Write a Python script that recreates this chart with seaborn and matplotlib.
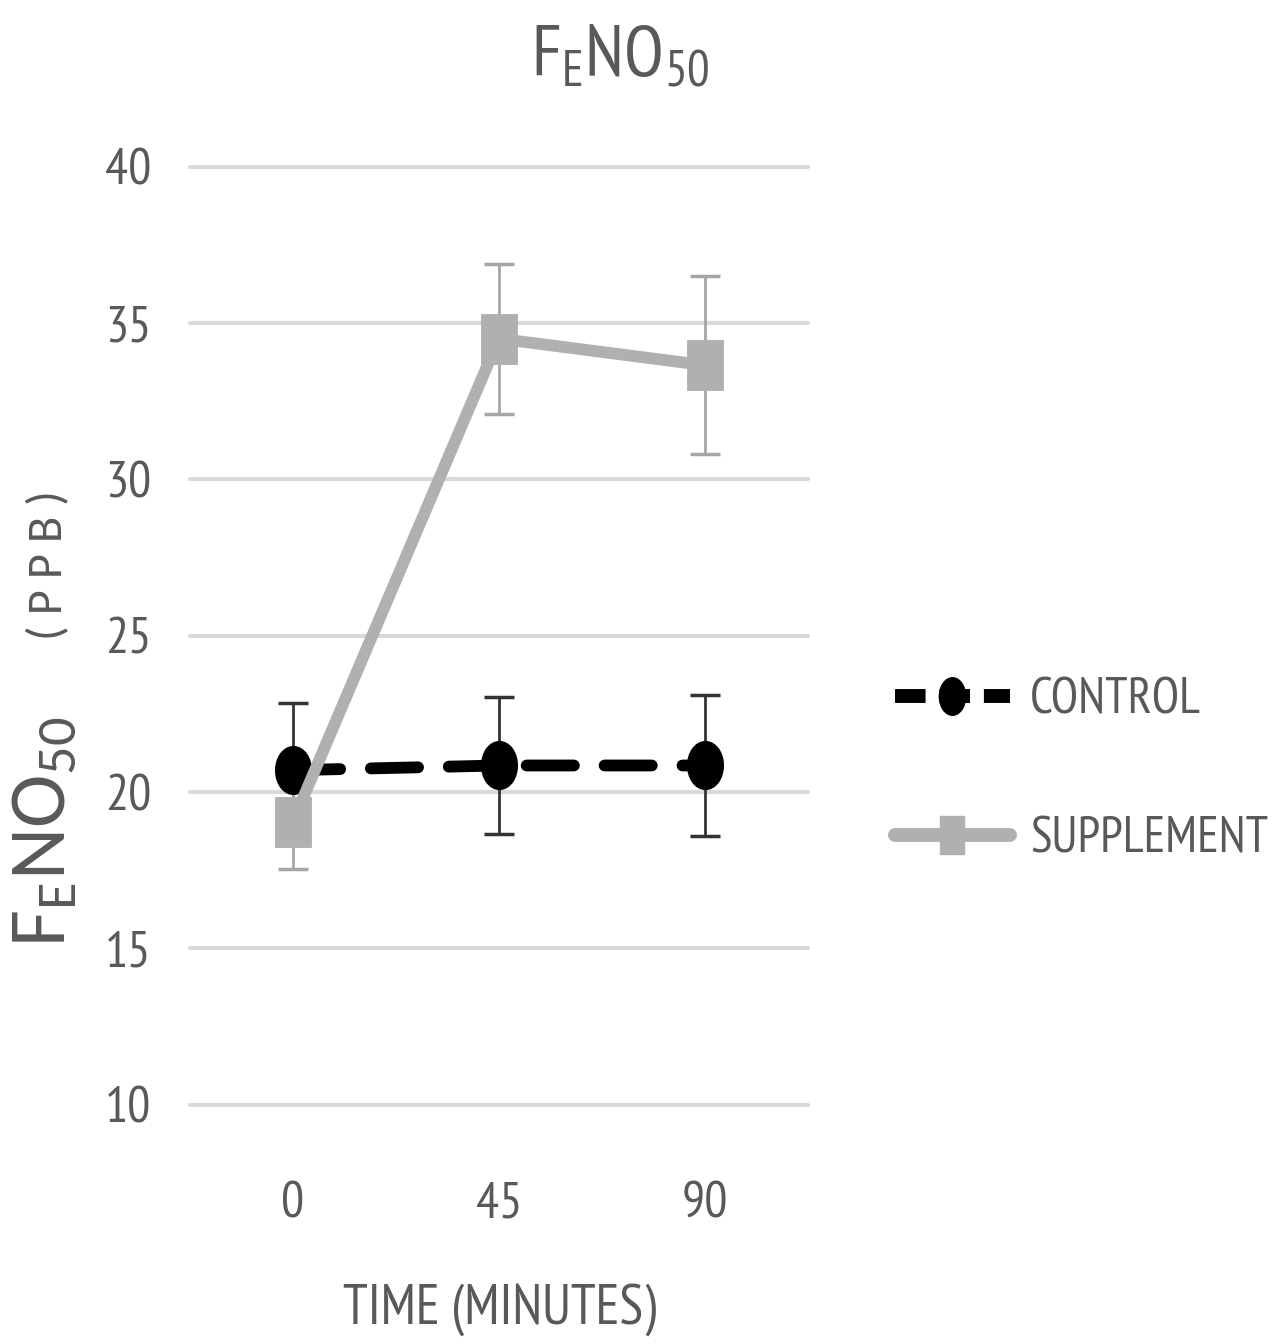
import numpy as np
import pandas as pd
import matplotlib
matplotlib.use("Agg")
import matplotlib.pyplot as plt
from matplotlib.lines import Line2D
from matplotlib.markers import MarkerStyle
from matplotlib.transforms import Affine2D
import seaborn as sns

# data
times = ["0", "45", "90"]
control_mean = [20.7, 20.85, 20.85]
control_err = [2.15, 2.2, 2.25]
supplement_mean = [19.05, 34.5, 33.65]
supplement_err = [1.5, 2.4, 2.85]
groups = ["CONTROL", "SUPPLEMENT"]

df = pd.DataFrame({
    "time": times * 2,
    "value": control_mean + supplement_mean,
    "group": [groups[0]] * 3 + [groups[1]] * 3,
})

sns.set_style("white")
narrow = ["PT Sans Narrow", "Carlito", "DejaVu Sans"]
wide = ["Carlito", "Open Sans", "DejaVu Sans"]
plt.rcParams["font.family"] = narrow
plt.rcParams["mathtext.default"] = "regular"

text_col = "#595959"
ctrl_col = "black"
supp_col = "#b0b0b0"

fig = plt.figure(figsize=(12.84, 13.44), dpi=100)
ax = fig.add_axes([0.148, 0.178, 0.481, 0.698])

ellipse = MarkerStyle("o", transform=Affine2D().scale(0.7, 1.0))
tall_sq = MarkerStyle("s", transform=Affine2D().scale(0.65, 1.0))

# error bars first so the points sit on top
x_pos = np.arange(len(times))
ax.errorbar(x_pos, control_mean, yerr=control_err, fmt="none", ecolor="#333333",
            elinewidth=2, capsize=11, capthick=2.5, zorder=2)
ax.errorbar(x_pos, supplement_mean, yerr=supplement_err, fmt="none", ecolor="#a6a6a6",
            elinewidth=2, capsize=11, capthick=2.5, zorder=2)

# control line
sns.pointplot(data=df[df["group"] == groups[0]], x="time", y="value", order=times,
              color=ctrl_col, markers="o", linestyles="--", errorbar=None, ax=ax,
              markersize=29, linewidth=8.5)
ln = ax.lines[-1]
ln.set_marker(ellipse)
ln.set_markersize(29)
ln.set_dashes((4, 2.6))
ln.set_dash_capstyle("round")
ln.set_zorder(3)

# supplement line
sns.pointplot(data=df[df["group"] == groups[1]], x="time", y="value", order=times,
              color=supp_col, markers="s", linestyles="-", errorbar=None, ax=ax,
              markersize=30, linewidth=8.5)
ln = ax.lines[-1]
ln.set_marker(tall_sq)
ln.set_markersize(30)
ln.set_zorder(4)

ax.set_xlim(-0.5, 2.5)
ax.set_ylim(10, 40)
ax.set_yticks([10, 15, 20, 25, 30, 35, 40])
ax.yaxis.grid(True, color="#d9d9d9", linewidth=3)
ax.xaxis.grid(False)
for gl in ax.get_ygridlines():
    gl.set_clip_on(False)
ax.set_axisbelow(True)
for s in ax.spines.values():
    s.set_visible(False)
ax.tick_params(axis="both", length=0, labelsize=37, labelcolor=text_col)
ax.tick_params(axis="y", pad=28)
ax.tick_params(axis="x", pad=55)
ax.set_xlabel("")
ax.set_ylabel("")

# titles and axis labels
fig.text(0.483, 0.957, r"F$_{E}$NO$_{50}$",
         ha="center", va="center", fontsize=52, color=text_col)
fig.text(0.389, 0.026, "TIME (MINUTES)", ha="center", va="center",
         fontsize=40, color=text_col)
fig.text(0.034, 1 - 832 / 1344, r"F$_{E}$NO$_{50}$",
         rotation=90, ha="center", va="center", fontsize=58, color=text_col,
         family=wide)
fig.text(0.038, 1 - 565 / 1344, "( P P B )", rotation=90, ha="center", va="center",
         fontsize=35, color=text_col, family=wide)

# legend
h_ctrl = Line2D([], [], color=ctrl_col, linewidth=10, dashes=(2.2, 1.0),
                marker=ellipse, markersize=27)
h_supp = Line2D([], [], color=supp_col, linewidth=10, marker=tall_sq, markersize=27)
fig.legend([h_ctrl, h_supp], groups, loc="center left",
           bbox_to_anchor=(0.697, 0.427), frameon=False, fontsize=36,
           handlelength=2.3, handletextpad=0.4, labelspacing=1.85,
           borderpad=0, borderaxespad=0, labelcolor=text_col)

fig.savefig("out.png", dpi=100, facecolor="white")
